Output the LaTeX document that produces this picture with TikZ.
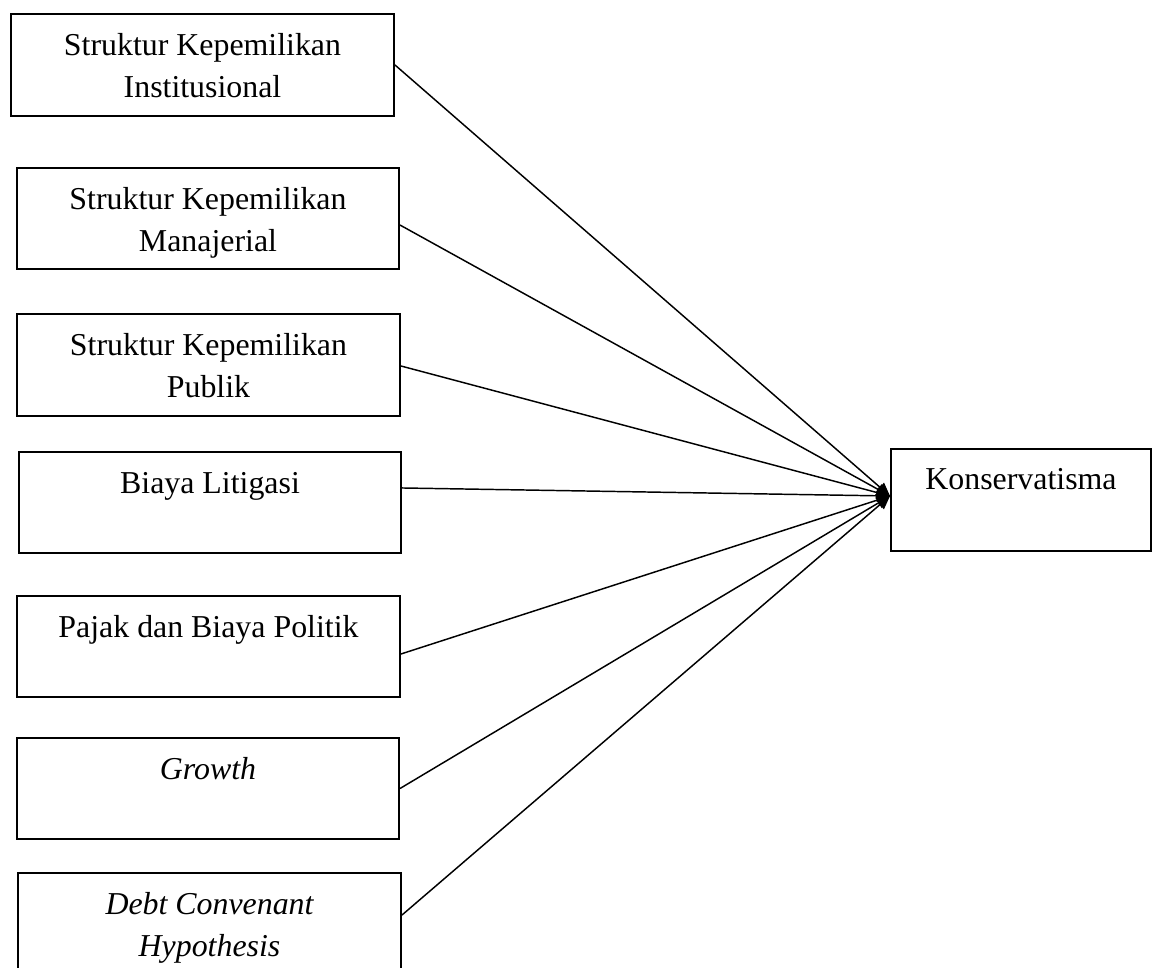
\documentclass[tikz,border=0pt]{standalone}
\usepackage{fontspec}
\setmainfont{Liberation Serif}
\usetikzlibrary{arrows.meta}
\tikzset{
  boxnode/.style={draw=black, line width=1.5pt, rectangle, inner sep=0pt, minimum width=286.5pt, minimum height=75.75pt},
  txtnode/.style={anchor=north, inner sep=0pt, align=center, font=\fontsize{23.9}{31.5}\selectfont},
  conn/.style={line width=1.1pt, -{Triangle[length=10pt,width=9pt]}}
}
\begin{document}
\begin{tikzpicture}[x=0.75pt,y=-0.75pt]
\useasboundingbox (0,0) rectangle (1152,967);
% boxes
\node[boxnode, minimum width=287.25pt, minimum height=76.5pt] (b1) at (202.5,65) {};
\node[boxnode] (b2) at (208,218.5) {};
\node[boxnode, minimum width=287.25pt, minimum height=76.5pt] (b3) at (208.5,365) {};
\node[boxnode] (b4) at (210,502.5) {};
\node[boxnode, minimum width=287.25pt] (b5) at (208.5,646.5) {};
\node[boxnode] (b6) at (208,788.5) {};
\node[boxnode, minimum width=287.25pt, minimum height=82.5pt] (b7) at (209.5,928) {};
\node[boxnode, minimum width=195pt, minimum height=76.5pt] (k) at (1021,500) {};
% texts
\node[txtnode] (t1) at (202.5,25.6) {\strut Struktur Kepemilikan\\Institusional};
\node[txtnode] (t2) at (208,179.6) {\strut Struktur Kepemilikan\\Manajerial};
\node[txtnode] (t3) at (208.5,325.6) {\strut Struktur Kepemilikan\\Publik};
\node[txtnode] (t4) at (210,463.6) {\strut Biaya Litigasi};
\node[txtnode] (t5) at (208.5,607.6) {\strut Pajak dan Biaya Politik};
\node[txtnode] (t6) at (208,749.6) {\strut\itshape Growth};
\node[txtnode] (t7) at (209.5,884.6) {\strut\itshape Debt Convenant\\\itshape Hypothesis};
\node[txtnode] (tk) at (1021,459.6) {\strut Konservatisma};
% connectors
\coordinate (tip) at ([yshift=3pt]k.west);
\draw[conn] (b1.east) -- (tip);
\draw[conn] ([yshift=-4.9pt]b2.east) -- (tip);
\draw[conn] ([yshift=-0.75pt]b3.east) -- (tip);
\draw[conn] ([yshift=10.9pt]b4.east) -- (tip);
\draw[conn] ([yshift=-5.6pt]b5.east) -- (tip);
\draw[conn] (b6.east) -- (tip);
\draw[conn] ([yshift=9.75pt]b7.east) -- (tip);
\end{tikzpicture}
\end{document}
